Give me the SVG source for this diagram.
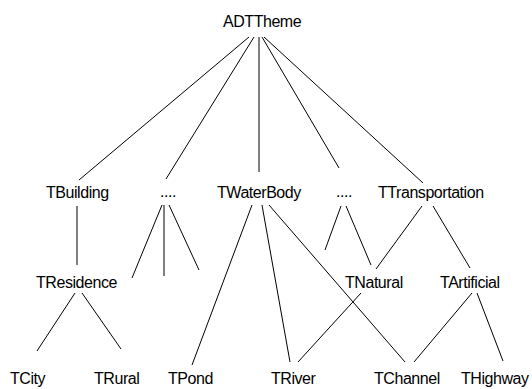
<svg xmlns="http://www.w3.org/2000/svg" width="532" height="389" viewBox="0 0 532 389">
<style>
text{font-family:"Liberation Sans",Arial,sans-serif;font-size:16px;letter-spacing:-0.45px;fill:#000}
.c line{stroke:#000;stroke-width:1;fill:none}
</style>
<rect width="532" height="389" fill="#fff"/>
<g class="c" id="connectors">
<line x1="249" y1="37" x2="79" y2="180"/>
<line x1="254" y1="37" x2="166" y2="179"/>
<line x1="259" y1="37" x2="259" y2="172"/>
<line x1="262" y1="37" x2="339" y2="168"/>
<line x1="264" y1="37" x2="423" y2="183"/>
<line x1="77" y1="206" x2="77" y2="265"/>
<line x1="162" y1="205" x2="132" y2="278"/>
<line x1="164" y1="205" x2="164" y2="276"/>
<line x1="169" y1="205" x2="199" y2="270"/>
<line x1="252" y1="205" x2="192" y2="365"/>
<line x1="262" y1="205" x2="290" y2="362"/>
<line x1="269" y1="205" x2="405" y2="362"/>
<line x1="341" y1="206" x2="325" y2="250"/>
<line x1="346" y1="206" x2="371" y2="265"/>
<line x1="422" y1="206" x2="376" y2="269"/>
<line x1="433" y1="206" x2="470" y2="268"/>
<line x1="75" y1="293" x2="37" y2="351"/>
<line x1="82" y1="293" x2="121" y2="349"/>
<line x1="361" y1="293" x2="298" y2="362"/>
<line x1="472" y1="293" x2="414" y2="362"/>
<line x1="477" y1="293" x2="503" y2="361"/>
</g>
<g id="ADTTheme"><text x="223" y="27">ADTTheme</text></g>
<g id="TBuilding"><text x="46" y="198">TBuilding</text></g>
<g id="dots1"><text x="160" y="197">....</text></g>
<g id="TWaterBody"><text x="217" y="198">TWaterBody</text></g>
<g id="dots2"><text x="336" y="197">....</text></g>
<g id="TTransportation"><text x="378" y="198">TTransportation</text></g>
<g id="TResidence"><text x="36" y="288">TResidence</text></g>
<g id="TNatural"><text x="345" y="288">TNatural</text></g>
<g id="TArtificial"><text x="440" y="288">TArtificial</text></g>
<g id="TCity"><text x="10" y="384">TCity</text></g>
<g id="TRural"><text x="94" y="384">TRural</text></g>
<g id="TPond"><text x="168" y="384">TPond</text></g>
<g id="TRiver"><text x="271" y="384">TRiver</text></g>
<g id="TChannel"><text x="374" y="384">TChannel</text></g>
<g id="THighway"><text x="461" y="384">THighway</text></g>
</svg>
